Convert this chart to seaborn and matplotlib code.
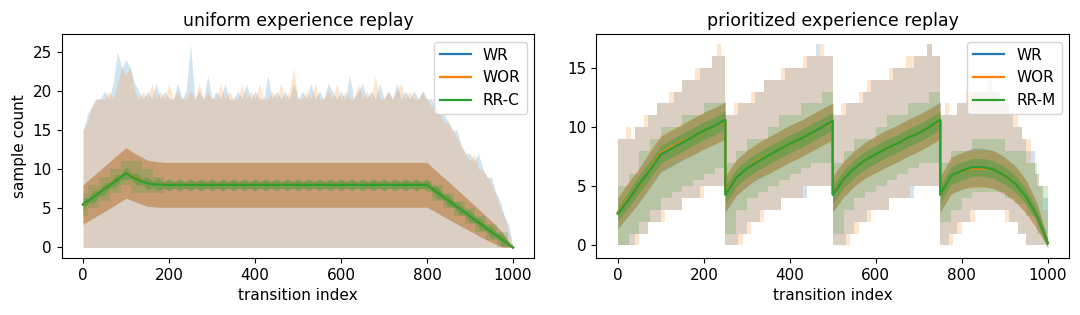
import numpy as np
import pandas as pd
import seaborn as sns
import matplotlib
matplotlib.use('Agg')
import matplotlib.pyplot as plt

# ---------------- uniform experience replay (left) ----------------
# mean / std on a 25-step grid
u_x = list(range(0, 1001, 25))
u_wr_mean = [5.5, 6.5, 7.5, 8.5, 9.5, 8.8, 8.2, 8.05] + [8.0] * 25 + \
            [7.0, 6.0, 5.0, 4.0, 3.0, 2.0, 1.0, 0.0]
u_wor_mean = [5.45, 6.55, 7.5, 8.55, 9.55, 8.85, 8.2, 8.05] + [8.02] * 25 + \
             [7.0, 6.0, 5.0, 4.0, 3.0, 2.0, 1.0, 0.0]
u_wr_std = [2.5, 2.7, 2.9, 3.05, 3.2, 3.05, 2.95, 2.9] + [2.85] * 25 + \
           [2.6, 2.4, 2.15, 1.9, 1.65, 1.35, 0.95, 0.0]
u_wor_std = [2.55, 2.7, 2.9, 3.1, 3.25, 3.05, 2.95, 2.9] + [2.87] * 25 + \
            [2.6, 2.4, 2.15, 1.9, 1.65, 1.35, 0.95, 0.0]
u_rr_lo = [4, 5, 6, 7, 8, 7, 7, 7] + [7.5] * 25 + [6, 5, 4, 3, 2, 1, 0, 0]
u_rr_hi = [7, 8, 9, 10, 11, 11, 10, 9] + [8.5] * 25 + [8, 7, 6, 5, 4, 3, 2, 0]

# RR-C is almost deterministic -> narrow band with bumps every 25 transitions
u_rr_x = [i * 12.5 for i in range(81)]
u_rr_mean = [5.5, 6.0, 6.5, 7.0, 7.5, 8.0, 8.5, 9.0, 9.5, 9.1, 8.75, 8.45,
             8.2, 8.1, 8.05, 8.0] + [8.0] * 49 + \
            [7.5, 7.0, 6.5, 6.0, 5.5, 5.0, 4.5, 4.0, 3.5, 3.0, 2.5, 2.0,
             1.5, 1.0, 0.5, 0.0]
u_rr_std = [0.8, 0.35] * 40 + [0.05]

# min / max envelopes (WR, WOR) on a 10-step grid, min is 0 everywhere
env_x = list(range(0, 1001, 10))
u_wr_max = [15, 17, 18, 19, 19, 20, 19, 21, 25, 23, 24, 23, 21, 20, 19, 20, 19, 21, 19, 20,
            19, 19, 21, 19, 20, 26, 19, 20, 19, 22, 19, 20, 19, 21, 19, 19, 20, 19, 21, 19,
            20, 19, 19, 22, 19, 20, 19, 20, 19, 21, 19, 20, 19, 21, 19, 20, 19, 21, 20, 19,
            20, 19, 22, 19, 20, 21, 19, 20, 19, 21, 19, 20, 19, 21, 19, 20, 19, 20, 19, 20,
            19, 19, 18, 17, 17, 16, 15, 15, 13, 12, 12, 11, 12, 10, 9, 9, 7, 6, 4, 3, 0]
u_wor_max = [15, 16, 18, 19, 19, 19, 20, 19, 21, 23, 22, 23, 20, 19, 20, 19, 21, 19, 20, 19,
             21, 19, 20, 19, 19, 20, 19, 21, 19, 20, 19, 19, 21, 19, 20, 19, 19, 21, 19, 20,
             19, 21, 19, 19, 20, 19, 21, 19, 20, 23, 19, 19, 20, 19, 21, 19, 19, 20, 19, 21,
             19, 20, 19, 19, 21, 19, 20, 19, 22, 19, 19, 20, 19, 20, 21, 19, 20, 19, 19, 20,
             19, 18, 18, 17, 16, 16, 15, 14, 13, 12, 11, 12, 10, 10, 9, 8, 7, 5, 4, 2, 0]

# ---------------- prioritized experience replay (right) ----------------
p_x = list(range(0, 251, 25)) + list(range(250, 501, 25)) + \
      list(range(500, 751, 25)) + list(range(750, 1001, 25))
p_wr_mean = [2.7, 3.9, 5.1, 6.4, 7.7, 8.2, 8.7, 9.2, 9.7, 10.1, 10.6,
             4.3, 5.7, 6.5, 7.1, 7.6, 8.1, 8.6, 9.0, 9.5, 10.0, 10.5,
             4.3, 5.6, 6.5, 7.2, 7.7, 8.2, 8.6, 9.1, 9.5, 10.0, 10.6,
             4.3, 5.9, 6.3, 6.6, 6.6, 6.4, 5.9, 5.2, 4.1, 2.5, 0.2]
p_wor_mean = [2.8, 4.0, 5.1, 6.5, 7.8, 8.3, 8.8, 9.2, 9.7, 10.1, 10.5,
              4.4, 5.7, 6.5, 7.2, 7.6, 8.1, 8.6, 9.0, 9.5, 10.0, 10.4,
              4.4, 5.6, 6.5, 7.2, 7.7, 8.2, 8.6, 9.1, 9.5, 10.0, 10.5,
              4.3, 5.9, 6.3, 6.5, 6.5, 6.4, 5.9, 5.2, 4.1, 2.5, 0.2]
p_rr_mean = [2.7, 3.9, 5.2, 6.4, 7.7, 8.2, 8.7, 9.2, 9.7, 10.1, 10.6,
             4.3, 5.7, 6.5, 7.1, 7.6, 8.1, 8.6, 9.0, 9.5, 10.0, 10.5,
             4.3, 5.6, 6.5, 7.2, 7.7, 8.2, 8.6, 9.1, 9.5, 10.0, 10.6,
             4.3, 5.9, 6.3, 6.6, 6.6, 6.4, 5.9, 5.2, 4.1, 2.5, 0.2]
p_wr_std = [1.3, 1.4, 1.45, 1.5, 1.5, 1.5, 1.5, 1.55, 1.55, 1.55, 1.55,
            1.5, 1.5, 1.5, 1.5, 1.55, 1.55, 1.55, 1.55, 1.55, 1.55, 1.55,
            1.5, 1.5, 1.5, 1.5, 1.55, 1.55, 1.55, 1.55, 1.55, 1.55, 1.55,
            1.5, 1.55, 1.55, 1.6, 1.6, 1.6, 1.55, 1.5, 1.4, 1.1, 0.35]
p_rr_std = [0.6, 0.7, 0.75, 0.75, 0.75, 0.75, 0.75, 0.75, 0.75, 0.75, 0.75,
            0.75, 0.75, 0.75, 0.75, 0.75, 0.75, 0.75, 0.75, 0.75, 0.75, 0.75,
            0.75, 0.75, 0.75, 0.75, 0.75, 0.75, 0.75, 0.75, 0.75, 0.75, 0.75,
            0.75, 0.75, 0.75, 0.75, 0.75, 0.75, 0.75, 0.7, 0.65, 0.55, 0.4]
p_rr_lo = [0, 1, 2, 3, 4, 4.5, 5, 5.5, 6, 6.5, 6.5,
           1, 3, 4, 4.5, 5, 5.5, 6, 6.5, 7, 7, 7,
           1, 3, 4, 4.5, 5, 5.5, 6, 6.5, 7, 7, 7,
           2, 3, 4, 4.5, 4.5, 4.5, 4, 3.5, 2.5, 1, 0]
p_rr_hi = [5, 6, 8, 9, 10, 10, 11, 11, 12, 12, 13,
           7, 8, 9, 9, 10, 11, 11, 12, 12, 13, 13,
           7, 8, 9, 9, 10, 11, 11, 12, 12, 13, 13,
           7, 8, 8, 9, 9, 9, 8, 8, 7, 5, 2]

p_wr_max = [9, 9, 9, 9, 10, 10, 10, 11, 11, 12, 12, 12, 12, 13, 13, 14, 14, 14, 14, 15, 15, 15, 16, 16, 16,
            11, 11, 11, 12, 12, 12, 12, 13, 13, 14, 14, 14, 14, 14, 15, 15, 15, 15, 15, 16, 16, 17, 16, 16, 16,
            11, 11, 11, 12, 12, 12, 12, 13, 13, 14, 14, 14, 14, 14, 15, 15, 15, 15, 15, 16, 16, 16, 17, 16, 16,
            11, 11, 11, 11, 12, 12, 12, 13, 13, 13, 13, 13, 13, 13, 12, 12, 11, 10, 10, 9, 8, 8, 6, 5, 4, 1]
p_wor_max = [9, 9, 10, 9, 10, 10, 11, 11, 11, 12, 12, 12, 13, 13, 13, 14, 14, 14, 15, 15, 15, 15, 16, 17, 16,
             11, 11, 12, 12, 12, 12, 13, 13, 13, 14, 14, 14, 14, 15, 15, 15, 15, 15, 16, 16, 16, 16, 17, 16, 16,
             11, 11, 12, 12, 12, 12, 13, 13, 14, 14, 14, 14, 14, 15, 15, 15, 15, 16, 16, 16, 16, 16, 17, 16, 16,
             11, 12, 11, 11, 12, 12, 13, 13, 13, 13, 13, 14, 13, 12, 12, 12, 11, 11, 10, 9, 9, 7, 6, 5, 3, 1]
p_wr_min = [0, 0, 0, 0, 1, 1, 1, 2, 2, 2, 3, 3, 3, 3, 3, 4, 4, 4, 4, 5, 5, 5, 5, 5, 5,
            0, 0, 0, 1, 1, 2, 2, 2, 3, 3, 3, 3, 3, 4, 4, 4, 4, 4, 4, 5, 5, 5, 5, 5, 5,
            0, 0, 0, 1, 1, 2, 2, 2, 3, 3, 3, 3, 3, 4, 4, 4, 4, 4, 4, 5, 5, 5, 5, 5, 5,
            0, 0, 1, 1, 2, 2, 2, 3, 3, 3, 3, 3, 3, 3, 3, 3, 2, 2, 1, 1, 0, 0, 0, 0, 0, 0]
p_wor_min = [0, 0, 0, 0, 0, 1, 1, 2, 2, 2, 2, 3, 3, 3, 3, 4, 4, 4, 4, 4, 5, 5, 5, 5, 5,
             0, 0, 0, 0, 1, 1, 2, 2, 2, 3, 3, 3, 3, 4, 4, 4, 4, 4, 5, 5, 5, 5, 5, 5, 5,
             0, 0, 0, 0, 1, 1, 2, 2, 2, 3, 3, 3, 3, 4, 4, 4, 4, 4, 5, 5, 5, 5, 5, 5, 5,
             0, 0, 0, 1, 1, 2, 2, 2, 3, 3, 3, 3, 3, 3, 3, 2, 2, 2, 1, 1, 0, 0, 0, 0, 0, 0]

COLORS = {'WR': 'C0', 'WOR': 'C1', 'RR-C': 'C2', 'RR-M': 'C2'}
A_ENV = 0.2
A_STD = 0.38

plt.rcParams['font.size'] = 11


def band(ax, x, lo, hi, color, alpha, step=None):
    ax.fill_between(np.asarray(x, float), np.asarray(lo, float), np.asarray(hi, float),
                    color=color, alpha=alpha, lw=0, step=step)


def draw_series(ax, name, x, mean, std, env_x_, lo, hi, env_step):
    mean = np.asarray(mean, float)
    std = np.asarray(std, float)
    band(ax, env_x_, lo, hi, COLORS[name], A_ENV, step=env_step)
    band(ax, x, mean - std, mean + std, COLORS[name], A_STD)
    df = pd.DataFrame({'transition index': x, 'sample count': mean})
    sns.lineplot(data=df, x='transition index', y='sample count', ax=ax,
                 color=COLORS[name], label=name, estimator=None, sort=False, lw=1.6)


fig, axes = plt.subplots(1, 2, figsize=(10.8, 3.15), dpi=100)

ax = axes[0]
zeros = [0] * len(env_x)
draw_series(ax, 'WR', u_x, u_wr_mean, u_wr_std, env_x, zeros, u_wr_max, None)
draw_series(ax, 'WOR', u_x, u_wor_mean, u_wor_std, env_x, zeros, u_wor_max, None)
draw_series(ax, 'RR-C', u_rr_x, u_rr_mean, u_rr_std, u_x, u_rr_lo, u_rr_hi, 'mid')
ax.set_title('uniform experience replay', fontsize=12.5)
ax.set_ylabel('sample count')
ax.set_xlabel('transition index')
ax.legend(loc='upper right')

ax = axes[1]
draw_series(ax, 'WR', p_x, p_wr_mean, p_wr_std, env_x, p_wr_min, p_wr_max, 'post')
draw_series(ax, 'WOR', p_x, p_wor_mean, p_wr_std, env_x, p_wor_min, p_wor_max, 'post')
draw_series(ax, 'RR-M', p_x, p_rr_mean, p_rr_std, p_x, p_rr_lo, p_rr_hi, 'post')
ax.set_title('prioritized experience replay', fontsize=12.5)
ax.set_ylabel('')
ax.set_xlabel('transition index')
ax.set_yticks([0, 5, 10, 15])
ax.legend(loc='upper right')

for a in axes:
    a.set_xticks([0, 200, 400, 600, 800, 1000])

plt.subplots_adjust(left=0.057, right=0.99, top=0.892, bottom=0.181, wspace=0.131)
fig.savefig('out.png', dpi=100)
